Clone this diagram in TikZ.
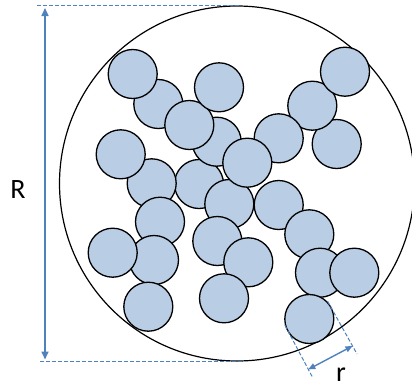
\documentclass[tikz,border=0pt]{standalone}
\usepackage{fontspec}
\setmainfont{Carlito}
\usetikzlibrary{arrows.meta}
\definecolor{grainfill}{HTML}{B9CDE5}
\definecolor{dimblue}{HTML}{4F81BD}

\begin{document}
\begin{tikzpicture}[
    x=1pt, y=-1pt,
    grain/.style={draw=black, fill=grainfill, line width=1.3pt},
    shell/.style={draw=black, line width=1.2pt},
    dimarrow/.style={draw=dimblue, line width=1.6pt,
        {Triangle[length=8pt,width=7pt]}-{Triangle[length=8pt,width=7pt]}},
    extline/.style={draw=dimblue, line width=1pt, dash pattern=on 4pt off 2pt},
    dimlabel/.style={font=\fontsize{28}{30}\selectfont, inner sep=0pt}
]
\clip (0,0) rectangle (412,389);

% outer shell
\draw[shell] (237,183.5) circle[radius=177.5];

% grains, back to front
\foreach \gx/\gy in {158.3/104, 132.7/74, 199/184, 229.3/204, 217.3/241,
    248.3/262.3, 224/298.3, 216.7/141.7, 189.3/125, 219/87.3,
    336.7/144, 312.3/105.7, 345/71.7, 278.7/138.3, 247.3/162.7,
    151.7/183.3, 120.7/154.3, 160/221.7, 154/260, 112.7/252.7,
    148.3/306.7, 278.7/205, 309.3/234.3, 320/272.7, 354.3/272.7,
    309.3/319}
    \draw[grain] (\gx,\gy) circle[radius=24.5];

% dimension R
\coordinate (Rtopl) at (37,5.5);
\coordinate (Rtopr) at (240,5.5);
\coordinate (Rbotl) at (40,361);
\coordinate (Rbotr) at (242,361);
\coordinate (Rtop) at (45,8);
\coordinate (Rbot) at (45,359.5);
\draw[extline] (Rtopl) -- (Rtopr);
\draw[extline] (Rbotl) -- (Rbotr);
\draw[dimarrow] (Rbot) -- (Rtop);
\node[dimlabel, anchor=base] (Rlabel) at (18,198.5) {R};

% dimension r
\coordinate (ra1) at (284.9,325.2);
\coordinate (ra2) at (313,378.2);
\coordinate (rb1) at (327.6,301.3);
\coordinate (rb2) at (357,354);
\coordinate (rl) at (308.3,369.4);
\coordinate (rr) at (352.5,346);
\draw[extline] (ra1) -- (ra2);
\draw[extline] (rb1) -- (rb2);
\draw[dimarrow, line width=1.4pt,
    {Triangle[length=7pt,width=6pt]}-{Triangle[length=7pt,width=6pt]}] (rl) -- (rr);
\node[dimlabel, anchor=base] (rlabel) at (341,381) {r};

\end{tikzpicture}
\end{document}
